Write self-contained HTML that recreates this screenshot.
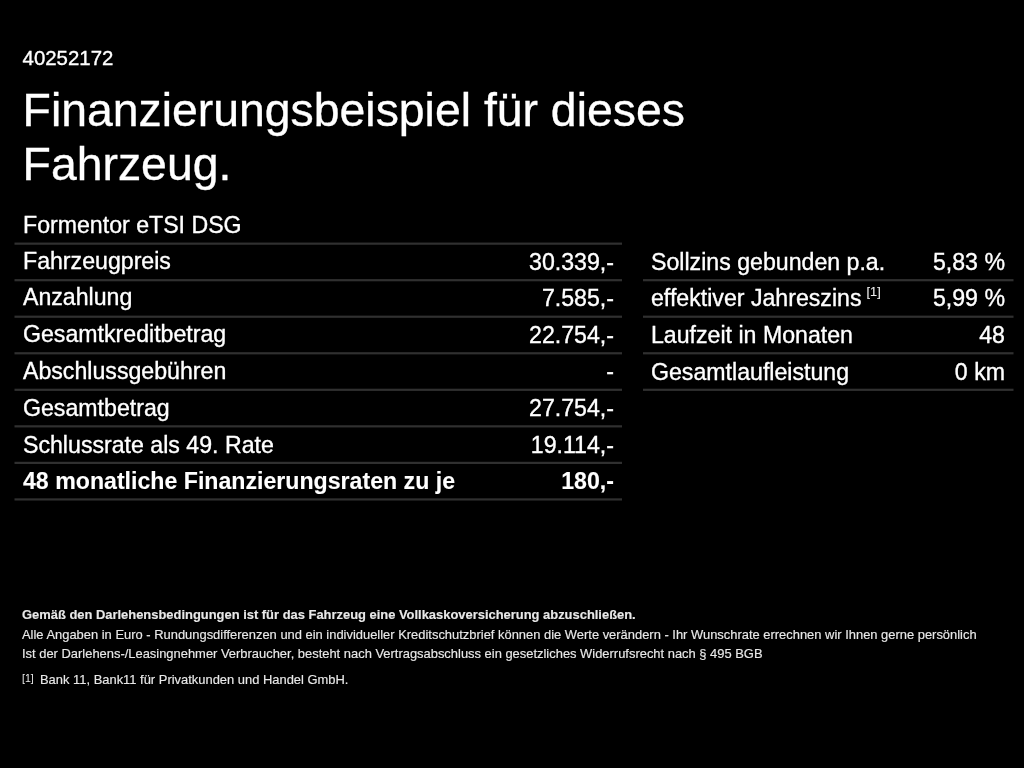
<!DOCTYPE html>
<html lang="de"><head><meta charset="utf-8"><title>Finanzierungsbeispiel</title>
<style>
html,body{margin:0;padding:0;background:#000;}
body{width:1024px;height:768px;position:relative;overflow:hidden;color:#fff;font-family:"Liberation Sans",Arial,Helvetica,sans-serif;}
body{-webkit-text-stroke:0.35px #fff;filter:blur(0.55px);}
.t{position:absolute;white-space:nowrap;line-height:1;}
.lines{position:absolute;left:0;top:0;}
#id{left:22.6px;top:48px;font-size:20.4px;}
#h1{left:22.6px;top:83px;font-size:46.36px;line-height:54px;margin:0;font-weight:normal;}
.row{position:absolute;height:24px;font-size:23.15px;}
.row span{position:absolute;top:0;line-height:1;white-space:nowrap;}
.row .l{left:8px;}
.row .r{right:8px;text-align:right;}
.row .d{top:1px;}
.b{font-weight:bold;-webkit-text-stroke:0.1px #fff;}
sup.s{font-size:12.8px;vertical-align:baseline;position:relative;top:-10px;margin-left:5px;-webkit-text-stroke:0.1px #eee;color:#eee;}
.f{font-size:12.93px;left:22px;-webkit-text-stroke:0.15px #e8e8e8;color:#e8e8e8;}
</style></head><body>
<svg class="lines" width="1024" height="768" viewBox="0 0 1024 768">
<rect x="14.5" y="242.55" width="607.5" height="2.2" fill="#303030"/>
<rect x="14.5" y="279.09" width="607.5" height="2.2" fill="#303030"/>
<rect x="14.5" y="315.63" width="607.5" height="2.2" fill="#303030"/>
<rect x="14.5" y="352.17" width="607.5" height="2.2" fill="#303030"/>
<rect x="14.5" y="388.71" width="607.5" height="2.2" fill="#303030"/>
<rect x="14.5" y="425.25" width="607.5" height="2.2" fill="#303030"/>
<rect x="14.5" y="461.79" width="607.5" height="2.2" fill="#303030"/>
<rect x="14.5" y="498.33" width="607.5" height="2.2" fill="#303030"/>
<rect x="643" y="279.09" width="370.5" height="2.2" fill="#303030"/>
<rect x="643" y="315.63" width="370.5" height="2.2" fill="#303030"/>
<rect x="643" y="352.17" width="370.5" height="2.2" fill="#303030"/>
<rect x="643" y="388.71" width="370.5" height="2.2" fill="#303030"/>
</svg>
<div class="t" id="id">40252172</div>
<h1 class="t" id="h1">Finanzierungsbeispiel für dieses<br>Fahrzeug.</h1>
<div class="row" style="top:214px;left:15px;width:607px"><span class="l">Formentor eTSI DSG</span></div>
<div class="row" style="top:250px;left:15px;width:607px"><span class="l">Fahrzeugpreis</span><span class="r d">30.339,-</span></div>
<div class="row" style="top:286px;left:15px;width:607px"><span class="l">Anzahlung</span><span class="r d">7.585,-</span></div>
<div class="row" style="top:323px;left:15px;width:607px"><span class="l">Gesamtkreditbetrag</span><span class="r d">22.754,-</span></div>
<div class="row" style="top:360px;left:15px;width:607px"><span class="l">Abschlussgebühren</span><span class="r">-</span></div>
<div class="row" style="top:397px;left:15px;width:607px"><span class="l">Gesamtbetrag</span><span class="r">27.754,-</span></div>
<div class="row" style="top:434px;left:15px;width:607px"><span class="l">Schlussrate als 49. Rate</span><span class="r">19.114,-</span></div>
<div class="row b" style="top:470px;left:15px;width:607px"><span class="l">48 monatliche Finanzierungsraten zu je</span><span class="r">180,-</span></div>
<div class="row" style="top:251px;left:643px;width:370px"><span class="l">Sollzins gebunden p.a.</span><span class="r">5,83 %</span></div>
<div class="row" style="top:287px;left:643px;width:370px"><span class="l">effektiver Jahreszins<sup class="s">[1]</sup></span><span class="r">5,99 %</span></div>
<div class="row" style="top:324px;left:643px;width:370px"><span class="l">Laufzeit in Monaten</span><span class="r">48</span></div>
<div class="row" style="top:361px;left:643px;width:370px"><span class="l">Gesamtlaufleistung</span><span class="r">0 km</span></div>
<div class="t f b" style="top:609px">Gemäß den Darlehensbedingungen ist für das Fahrzeug eine Vollkaskoversicherung abzuschließen.</div>
<div class="t f" style="top:629px">Alle Angaben in Euro - Rundungsdifferenzen und ein individueller Kreditschutzbrief können die Werte verändern - Ihr Wunschrate errechnen wir Ihnen gerne persönlich</div>
<div class="t f" style="top:648px">Ist der Darlehens-/Leasingnehmer Verbraucher, besteht nach Vertragsabschluss ein gesetzliches Widerrufsrecht nach § 495 BGB</div>
<div class="t f" style="top:674px"><span style="font-size:10.6px;position:absolute;left:0;top:-1px;-webkit-text-stroke:0;">[1]</span><span style="position:absolute;left:18px;top:0">Bank 11, Bank11 für Privatkunden und Handel GmbH.</span></div>
</body></html>
